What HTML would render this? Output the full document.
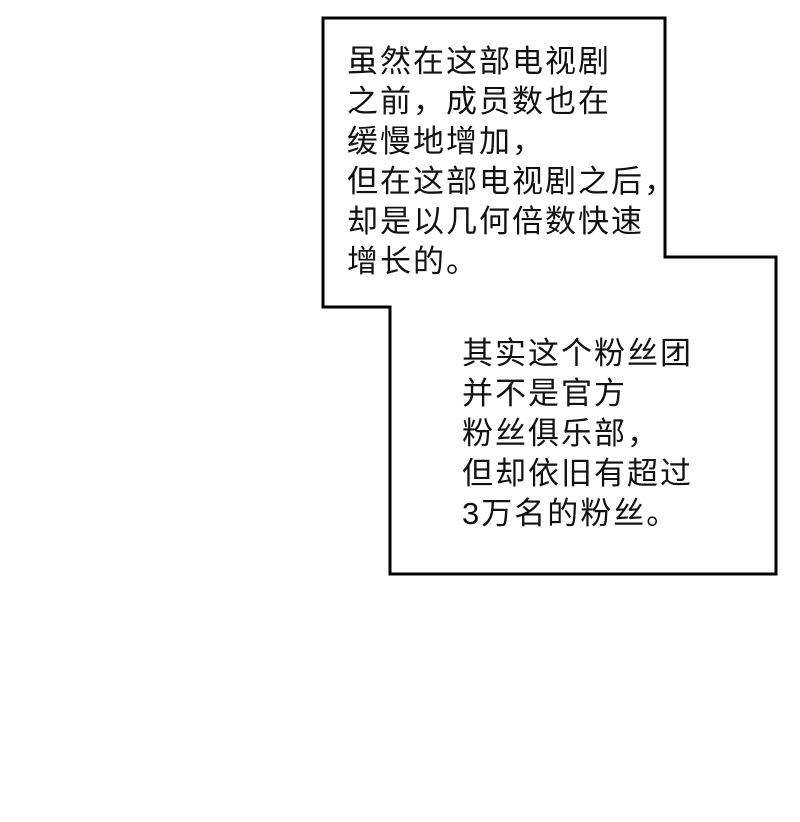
<!DOCTYPE html>
<html><head><meta charset="utf-8"><style>
html,body{margin:0;padding:0;background:#fff;}
body{width:800px;height:822px;position:relative;overflow:hidden;}
.t{position:absolute;font-family:"Liberation Sans","Noto Sans CJK SC",sans-serif;font-size:31px;line-height:40px;color:#111;white-space:nowrap;letter-spacing:2px;}
</style></head><body>
<svg width="800" height="822" style="position:absolute;left:0;top:0">
<polygon points="323,18 665,18 665,257 776,257 776,574 390,574 390,307 323,307" fill="#fff" stroke="#000" stroke-width="3"/>
</svg>
<div class="t" style="left:347px;top:42px">虽然在这部电视剧<br>之前，成员数也在<br>缓慢地增加，<br>但在这部电视剧之后，<br>却是以几何倍数快速<br>增长的。</div>
<div class="t" style="left:462px;top:334px">其实这个粉丝团<br>并不是官方<br>粉丝俱乐部，<br>但却依旧有超过<br>3万名的粉丝。</div>
</body></html>
